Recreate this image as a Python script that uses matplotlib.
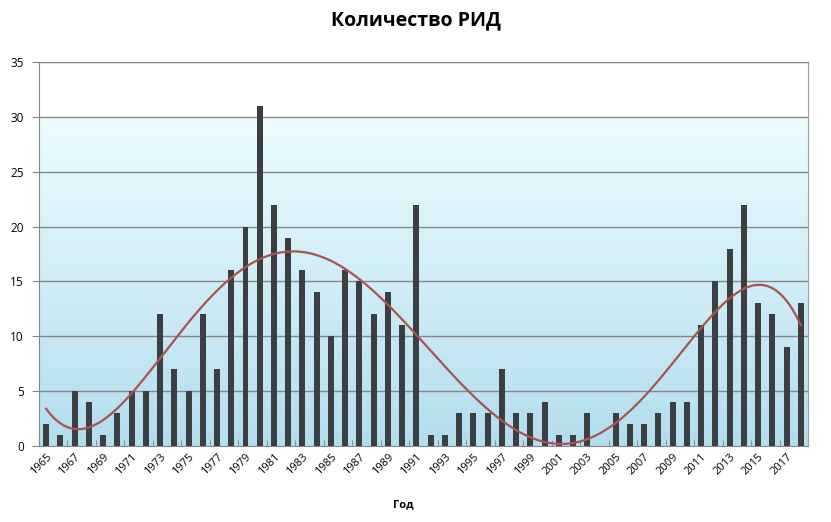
import numpy as np
from matplotlib import pyplot as plt

plt.rcParams['font.family'] = ['Open Sans', 'DejaVu Sans']

# years and counts
years = list(range(1965, 2019))
counts = [2, 1, 5, 4, 1, 3, 5, 5, 12, 7,
          5, 12, 7, 16, 20, 31, 22, 19, 16, 14,
          10, 16, 15, 12, 14, 11, 22, 1, 1, 3,
          3, 3, 7, 3, 3, 4, 1, 1, 3, 0,
          3, 2, 2, 3, 4, 4, 11, 15, 18, 22,
          13, 12, 9, 13]

fig = plt.figure(figsize=(8.31, 5.22), dpi=100)
ax = fig.add_axes([39 / 831, 1 - 446 / 522, (808 - 39) / 831, (446 - 62) / 522])

n = len(years)
x = np.arange(n)

# background gradient (white at top -> light blue at bottom)
grad = np.linspace(0, 1, 256).reshape(-1, 1)
top = np.array([1.0, 1.0, 1.0])
mid = np.array([0.93, 0.99, 1.0])
bot = np.array([0.70, 0.87, 0.93])
img = np.zeros((256, 1, 3))
for i, g in enumerate(grad[:, 0]):
    # g = 0 bottom, 1 top
    yv = g * 35
    if yv >= 30:
        img[i, 0] = top
    else:
        t = yv / 30
        img[i, 0] = bot * (1 - t) + mid * t
ax.imshow(img, extent=[-0.5, n - 0.5, 0, 35], origin='lower', aspect='auto', zorder=0)

for v in range(5, 36, 5):
    ax.axhline(v, color='#868686', linewidth=1.0, zorder=1)

ax.bar(x, counts, width=0.42, color='#3b3f41', zorder=2)

# polynomial trendline (order 6, like Excel)
p = np.polynomial.Polynomial.fit(x + 1, counts, 6)
xs = np.linspace(0, n - 1, 400)
ax.plot(xs, p(xs + 1), color='#a85450', linewidth=1.6, zorder=3)

ax.set_xlim(-0.5, n - 0.5)
ax.set_ylim(0, 35)
ax.set_yticks(range(0, 36, 5))
ax.set_xticks(x[::2])
ax.set_xticklabels([str(y) for y in years[::2]], rotation=45, ha='right',
                   rotation_mode='anchor', fontsize=8)
ax.set_xticks(np.arange(1.5, n, 2), minor=True)
ax.tick_params(axis='x', which='major', length=0, pad=4)
ax.tick_params(axis='x', which='minor', length=4, color='#868686', direction='in')
ax.tick_params(axis='y', length=5, color='#868686', labelsize=8.5, pad=6)

for s in ['top', 'right']:
    ax.spines[s].set_visible(False)
ax.spines['left'].set_color('#868686')
ax.spines['bottom'].set_color('#868686')
ax.spines['right'].set_visible(True)
ax.spines['right'].set_color('#a0a0a0')
ax.spines['top'].set_visible(True)
ax.spines['top'].set_color('#868686')

fig.text(0.5, 1 - 20 / 522, 'Количество РИД', ha='center', va='center',
         fontsize=14, fontweight='bold')
fig.text(0.485, 1 - 505 / 522, 'Год', ha='center', va='center',
         fontsize=8, fontweight='bold')

fig.savefig('out.png', dpi=100)
